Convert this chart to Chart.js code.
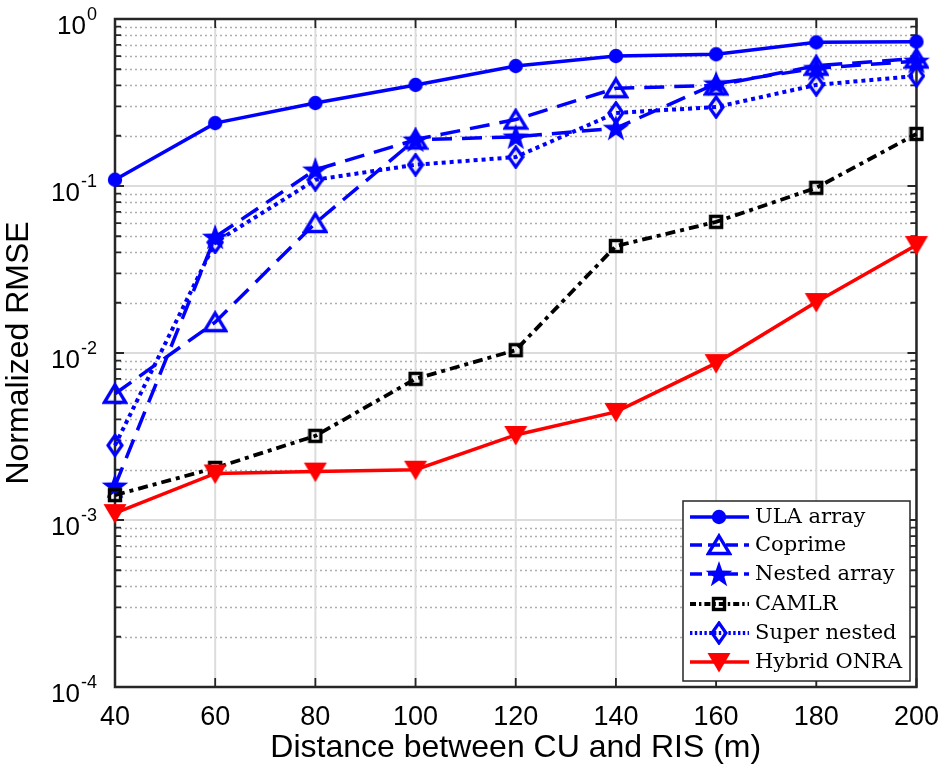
<!DOCTYPE html>
<html>
<head>
<meta charset="utf-8">
<script src="https://cdn.jsdelivr.net/npm/chart.js@4.4.1/dist/chart.umd.min.js"></script>
<style>
  html, body { margin: 0; padding: 0; background: #fff; }
  #wrap { width: 945px; height: 772px; }
</style>
</head>
<body>
<div id="wrap"><canvas id="rmse_chart" width="945" height="772"></canvas></div>
<script>
// --- data ---
const distances = [40, 60, 80, 100, 120, 140, 160, 180, 200];
const ulaArray    = [0.109, 0.238, 0.314, 0.403, 0.523, 0.600, 0.615, 0.725, 0.732];
const coprime     = [0.0057, 0.0153, 0.060, 0.190, 0.250, 0.385, 0.400, 0.525, 0.580];
const nestedArray = [0.0016, 0.0495, 0.125, 0.189, 0.197, 0.222, 0.410, 0.507, 0.560];
const camlr       = [0.00141, 0.00205, 0.00319, 0.0070, 0.0104, 0.0437, 0.061, 0.0976, 0.205];
const superNested = [0.0028, 0.046, 0.109, 0.134, 0.149, 0.274, 0.297, 0.403, 0.456];
const hybridOnra  = [0.0011, 0.0019, 0.00195, 0.0020, 0.00323, 0.00444, 0.0087, 0.0202, 0.0443];

const seriesNames = ['ULA array', 'Coprime', 'Nested array', 'CAMLR', 'Super nested', 'Hybrid ONRA'];
const xTicks = [40, 60, 80, 100, 120, 140, 160, 180, 200];
const yDecades = [-4, -3, -2, -1, 0]; // labels 10^k

const BLUE = '#0000ff';
const RED = '#ff0000';
const BLACK = '#000000';

// --- marker images (MATLAB style) ---
function makeMarker(w, h, draw) {
    const c = document.createElement('canvas');
    c.width = w; c.height = h;
    const g = c.getContext('2d');
    draw(g, w, h);
    return c;
}
const mCircle = makeMarker(16, 16, (g) => {
    g.fillStyle = BLUE; g.beginPath(); g.arc(8, 8, 7.2, 0, Math.PI * 2); g.fill();
});
const mTriUp = makeMarker(26, 24, (g) => {
    g.strokeStyle = BLUE; g.lineWidth = 3.4; g.lineJoin = 'miter';
    g.beginPath(); g.moveTo(13, 3); g.lineTo(23.5, 20.5); g.lineTo(2.5, 20.5); g.closePath(); g.stroke();
});
const mStar = makeMarker(30, 30, (g) => {
    g.fillStyle = BLUE; g.beginPath();
    for (let i = 0; i < 10; i++) {
        const r = i % 2 === 0 ? 14 : 5.6;
        const a = -Math.PI / 2 + i * Math.PI / 5;
        const px = 15 + r * Math.cos(a), py = 16 + r * Math.sin(a);
        if (i === 0) g.moveTo(px, py); else g.lineTo(px, py);
    }
    g.closePath(); g.fill();
});
const mSquare = makeMarker(16, 16, (g) => {
    g.strokeStyle = BLACK; g.lineWidth = 3.4;
    g.strokeRect(2.5, 2.5, 11, 11);
});
const mDiamond = makeMarker(18, 24, (g) => {
    g.strokeStyle = BLUE; g.lineWidth = 3.2;
    g.beginPath(); g.moveTo(9, 2); g.lineTo(16, 12); g.lineTo(9, 22); g.lineTo(2, 12); g.closePath(); g.stroke();
});
const mTriDown = makeMarker(26, 24, (g) => {
    g.fillStyle = RED;
    g.beginPath(); g.moveTo(1.5, 3); g.lineTo(24.5, 3); g.lineTo(13, 22.5); g.closePath(); g.fill();
});

function pts(values) {
    return distances.map((d, i) => ({ x: d, y: values[i] }));
}

const styles = [
    { data: ulaArray,    color: BLUE,  dash: [],            width: 3.5, marker: mCircle },
    { data: coprime,     color: BLUE,  dash: [20, 10],      width: 3.5, marker: mTriUp },
    { data: nestedArray, color: BLUE,  dash: [20, 10],      width: 3.5, marker: mStar },
    { data: camlr,       color: BLACK, dash: [10, 5, 4, 5], width: 3.8, marker: mSquare },
    { data: superNested, color: BLUE,  dash: [4, 4],        width: 4,   marker: mDiamond },
    { data: hybridOnra,  color: RED,   dash: [],            width: 3.5, marker: mTriDown }
];

const datasets = styles.map((s, i) => ({
    label: seriesNames[i],
    data: pts(s.data),
    borderColor: s.color,
    backgroundColor: s.color,
    borderWidth: s.width,
    borderDash: s.dash,
    pointStyle: s.marker,
    pointRadius: 8,
    pointHoverRadius: 8,
    tension: 0,
    clip: false,
    order: styles.length - 1 - i // later series drawn on top, like MATLAB
}));

// --- grid, box and tick marks drawn from the scales ---
const framePlugin = {
    id: 'matlabFrame',
    beforeDatasetsDraw(chart) {
        const { ctx, chartArea: a, scales } = chart;
        const xs = scales.x, ys = scales.y;
        ctx.save();
        // minor log grid (dotted)
        ctx.strokeStyle = 'rgba(140,140,140,0.7)';
        ctx.lineWidth = 1.5;
        ctx.setLineDash([2, 3]);
        for (let k = -4; k < 0; k++) {
            for (let m = 2; m <= 9; m++) {
                const y = Math.round(ys.getPixelForValue(m * Math.pow(10, k))) + 0.5;
                ctx.beginPath(); ctx.moveTo(a.left, y); ctx.lineTo(a.right, y); ctx.stroke();
            }
        }
        // major grid (solid light gray)
        ctx.setLineDash([]);
        ctx.strokeStyle = '#dcdcdc';
        ctx.lineWidth = 2;
        yDecades.forEach(k => {
            const y = ys.getPixelForValue(Math.pow(10, k));
            ctx.beginPath(); ctx.moveTo(a.left, y); ctx.lineTo(a.right, y); ctx.stroke();
        });
        xTicks.forEach(v => {
            const x = xs.getPixelForValue(v);
            ctx.beginPath(); ctx.moveTo(x, a.top); ctx.lineTo(x, a.bottom); ctx.stroke();
        });
        // tick marks (inside)
        ctx.strokeStyle = '#262626';
        ctx.lineWidth = 1.8;
        xTicks.forEach(v => {
            const x = xs.getPixelForValue(v);
            ctx.beginPath();
            ctx.moveTo(x, a.bottom); ctx.lineTo(x, a.bottom - 9);
            ctx.moveTo(x, a.top); ctx.lineTo(x, a.top + 9);
            ctx.stroke();
        });
        for (let k = -4; k <= 0; k++) {
            for (let m = 1; m <= 9; m++) {
                if (k === 0 && m > 1) break;
                const y = ys.getPixelForValue(m * Math.pow(10, k));
                const len = m === 1 ? 9 : 6;
                ctx.beginPath();
                ctx.moveTo(a.left, y); ctx.lineTo(a.left + len, y);
                ctx.moveTo(a.right, y); ctx.lineTo(a.right - len, y);
                ctx.stroke();
            }
        }
        // axes box
        ctx.lineWidth = 2.5;
        ctx.strokeRect(a.left, a.top, a.right - a.left, a.bottom - a.top);
        ctx.restore();
    },
    afterDraw(chart) {
        const { ctx, scales } = chart;
        const ys = scales.y;
        ctx.save();
        // y tick labels 10^k with superscript
        ctx.fillStyle = '#000';
        ctx.textAlign = 'right';
        ctx.textBaseline = 'alphabetic';
        yDecades.forEach(k => {
            const y = ys.getPixelForValue(Math.pow(10, k));
            const exp = String(k);
            ctx.font = '18px "Liberation Sans", Arial, sans-serif';
            const ew = ctx.measureText(exp).width;
            ctx.fillText(exp, 97, y + 1);
            ctx.font = '26px "Liberation Sans", Arial, sans-serif';
            ctx.fillText('10', 97 - ew - 1, y + 15);
        });

        // legend box
        const lx = 683, ly = 501, lw = 227, lh = 180;
        ctx.fillStyle = '#fff';
        ctx.fillRect(lx, ly, lw, lh);
        ctx.strokeStyle = '#262626';
        ctx.lineWidth = 1.5;
        ctx.strokeRect(lx, ly, lw, lh);
        const rowY = [517, 545, 574, 604, 633, 662];
        styles.forEach((s, i) => {
            const y = rowY[i];
            ctx.strokeStyle = s.color;
            ctx.lineWidth = s.width;
            ctx.setLineDash(s.dash.length ? s.dash.map(d => d * 0.6) : []);
            ctx.beginPath(); ctx.moveTo(690, y); ctx.lineTo(749, y); ctx.stroke();
            ctx.setLineDash([]);
            const m = s.marker;
            ctx.drawImage(m, 719 - m.width / 2, y - m.height / 2);
            ctx.fillStyle = '#000';
            ctx.textAlign = 'left';
            ctx.textBaseline = 'middle';
            ctx.font = '21px "DejaVu Serif", serif';
            ctx.fillText(seriesNames[i], 755, y + 1);
        });
        ctx.restore();
    }
};

new Chart(document.getElementById('rmse_chart'), {
    type: 'line',
    data: { datasets: datasets },
    options: {
        responsive: false,
        animation: false,
        layout: { padding: { top: 19, right: 25, left: 0, bottom: 0 } },
        plugins: {
            legend: { display: false },
            tooltip: { enabled: false }
        },
        scales: {
            x: {
                type: 'linear',
                min: 40,
                max: 200,
                grid: { display: false },
                border: { display: false },
                ticks: {
                    stepSize: 20,
                    padding: 6,
                    color: '#000',
                    font: { family: '"Liberation Sans", Arial, sans-serif', size: 27 },
                    callback: (v) => String(v)
                },
                title: {
                    display: true,
                    text: 'Distance between CU and RIS (m)',
                    color: '#000',
                    font: { family: '"Liberation Sans", Arial, sans-serif', size: 32 },
                    padding: { top: 0, bottom: 5 }
                },
                afterFit: (scale) => { scale.height = 85; }
            },
            y: {
                type: 'logarithmic',
                min: 1e-4,
                max: 1,
                grid: { display: false },
                border: { display: false },
                ticks: { display: false },
                title: {
                    display: true,
                    text: 'Normalized RMSE',
                    color: '#000',
                    font: { family: '"Liberation Sans", Arial, sans-serif', size: 32 },
                    padding: { top: 0, bottom: 0 }
                },
                afterFit: (scale) => { scale.width = 115; }
            }
        }
    },
    plugins: [framePlugin]
});
</script>
</body>
</html>
